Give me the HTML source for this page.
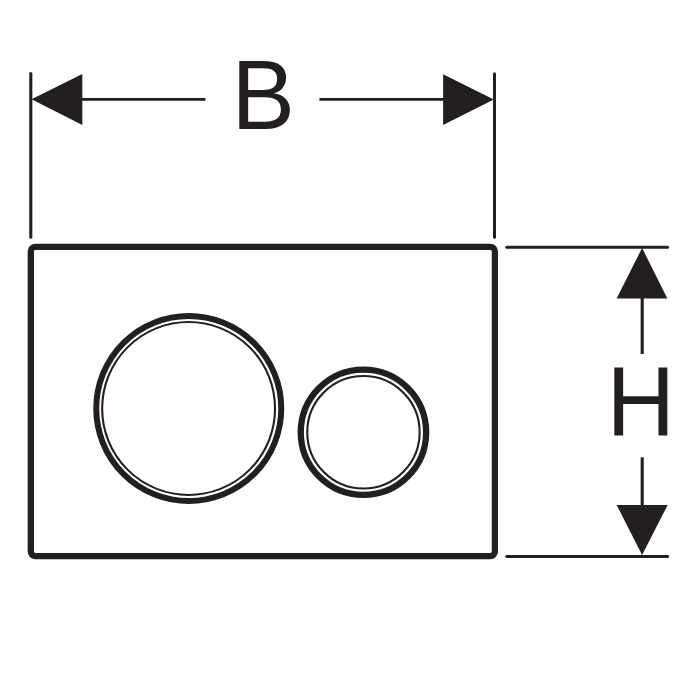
<!DOCTYPE html>
<html><head><meta charset="utf-8">
<style>
html,body{margin:0;padding:0;background:#fff;width:700px;height:700px;overflow:hidden}
svg{display:block}
</style></head>
<body>
<svg width="700" height="700" viewBox="0 0 700 700" xmlns="http://www.w3.org/2000/svg">
<rect width="700" height="700" fill="#fff"/>
<g stroke="#231f20" fill="none" stroke-linecap="round">
  <!-- B extension lines -->
  <line x1="30.8" y1="73.6" x2="30.8" y2="237.2" stroke-width="3.1"/>
  <line x1="494.5" y1="73.8" x2="494.5" y2="237.2" stroke-width="3"/>
  <!-- B dimension line -->
  <line x1="80" y1="99.3" x2="205.4" y2="99.3" stroke-width="2.8" stroke-linecap="butt"/>
  <line x1="319.4" y1="99.3" x2="445" y2="99.3" stroke-width="2.8" stroke-linecap="butt"/>
  <!-- H extension lines -->
  <line x1="506.8" y1="247.2" x2="667.6" y2="247.2" stroke-width="3"/>
  <line x1="506.8" y1="556.4" x2="667.6" y2="556.4" stroke-width="3"/>
  <!-- H dimension line -->
  <line x1="642.2" y1="296" x2="642.2" y2="354" stroke-width="3.1" stroke-linecap="butt"/>
  <line x1="642.2" y1="457.3" x2="642.2" y2="507" stroke-width="3.1" stroke-linecap="butt"/>
  <!-- frame -->
  <rect x="30.8" y="246.95" width="464.1" height="309.15" rx="4.5" ry="4.5" stroke-width="6.3"/>
  <!-- big circle -->
  <circle cx="188.75" cy="408.5" r="92.5" stroke-width="6.0"/>
  <circle cx="188.6" cy="408.5" r="86.45" stroke-width="2.1"/>
  <!-- small circle -->
  <circle cx="363.45" cy="432.25" r="62.7" stroke-width="6.3"/>
  <circle cx="363.45" cy="432.25" r="56.2" stroke-width="2.1"/>
</g>
<g fill="#231f20">
  <polygon points="31.5,99.3 82.3,73.9 82.3,124.9"/>
  <polygon points="493.8,99.4 443.1,74.3 443.1,124.9"/>
  <polygon points="642.1,248 616.6,298.4 667.4,298.4"/>
  <polygon points="642.1,555 616.6,504.9 667.7,504.9"/>
</g>
<g fill="#231f20" font-family="'Liberation Sans', sans-serif" font-size="95">
  <text transform="translate(231.4 129) scale(1 1.03)">B</text>
  <text transform="translate(606.4 435) scale(1 1.035)">H</text>
</g>
</svg>
</body></html>
